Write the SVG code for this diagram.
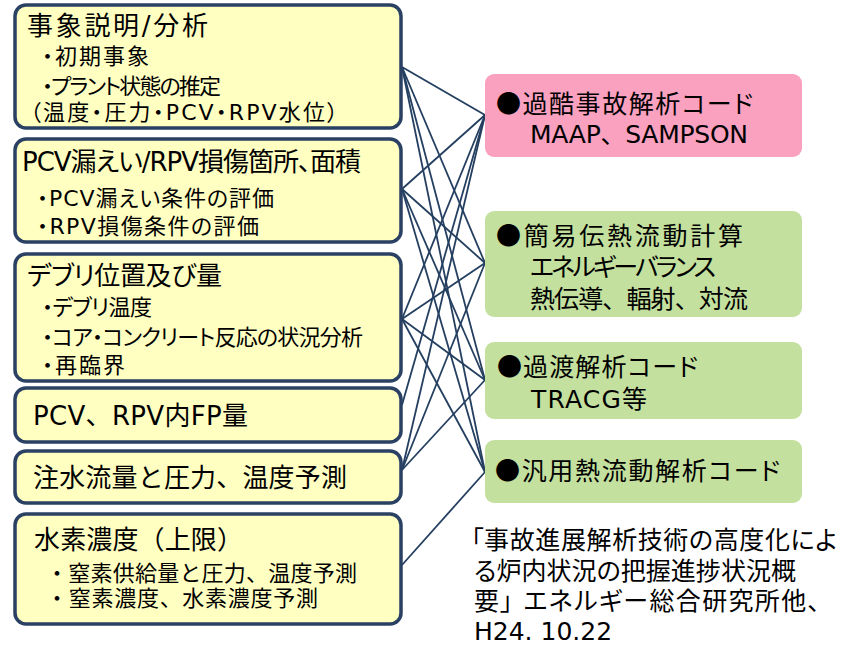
<svg xmlns="http://www.w3.org/2000/svg" width="858" height="646" viewBox="0 0 858 646">
<style>
text{font-family:"DejaVu Sans","Noto Sans CJK JP",sans-serif;fill:#000;}
.p{font-feature-settings:"palt" 1;}
.b{font-family:"Noto Sans CJK JP",sans-serif;}
.lb{fill:#FFFFC2;stroke:#2A4164;stroke-width:3.5;}
.pk{fill:#F9A1BF;}
.gr{fill:#C4E09E;}
.t{font-size:26px;}
.s{font-size:22px;}
.r{font-size:25px;}
.c{font-size:25px;}
#connectors line{stroke:#243F60;stroke-width:1.8;}
</style>
<rect width="858" height="646" fill="#FFFFFF"/>
<g id="connectors">
<line x1="402" y1="67" x2="485" y2="115"/>
<line x1="402" y1="67" x2="485" y2="263"/>
<line x1="402" y1="67" x2="485" y2="380"/>
<line x1="402" y1="67" x2="485" y2="472"/>
<line x1="402" y1="189" x2="485" y2="115"/>
<line x1="402" y1="189" x2="485" y2="263"/>
<line x1="402" y1="189" x2="485" y2="380"/>
<line x1="402" y1="189" x2="485" y2="472"/>
<line x1="402" y1="319" x2="485" y2="115"/>
<line x1="402" y1="319" x2="485" y2="263"/>
<line x1="402" y1="319" x2="485" y2="380"/>
<line x1="402" y1="319" x2="485" y2="472"/>
<line x1="402" y1="405" x2="485" y2="115"/>
<line x1="402" y1="470" x2="485" y2="115"/>
<line x1="402" y1="470" x2="485" y2="263"/>
<line x1="402" y1="470" x2="485" y2="380"/>
<line x1="402" y1="565" x2="485" y2="472"/>
</g>
<g id="box1">
<rect class="lb" x="15" y="5" width="386" height="123" rx="11"/>
<text class="t" x="27" y="35" textLength="181" lengthAdjust="spacing">事象説明/分析</text>
<text class="s p" x="42" y="64" textLength="107" lengthAdjust="spacing">・初期事象</text>
<text class="s p" x="42" y="94" textLength="179" lengthAdjust="spacing">・プラント状態の推定</text>
<text class="s p" x="30" y="120" textLength="308" lengthAdjust="spacing">（温度・圧力・PCV・RPV水位）</text>
</g>
<g id="box2">
<rect class="lb" x="15" y="139" width="386" height="103" rx="11"/>
<text class="t p" x="22" y="171" textLength="339" lengthAdjust="spacing">PCV漏えい/RPV損傷箇所、面積</text>
<text class="s p" x="37" y="206" textLength="237" lengthAdjust="spacing">・PCV漏えい条件の評価</text>
<text class="s p" x="37" y="234" textLength="222" lengthAdjust="spacing">・RPV損傷条件の評価</text>
</g>
<g id="box3">
<rect class="lb" x="15" y="254" width="386" height="127" rx="11"/>
<text class="t p" x="27" y="285" textLength="195" lengthAdjust="spacing">デブリ位置及び量</text>
<text class="s p" x="42" y="315" textLength="110" lengthAdjust="spacing">・デブリ温度</text>
<text class="s p" x="42" y="345" textLength="321" lengthAdjust="spacing">・コア・コンクリート反応の状況分析</text>
<text class="s p" x="42" y="373" textLength="83" lengthAdjust="spacing">・再臨界</text>
</g>
<g id="box4">
<rect class="lb" x="15" y="388" width="386" height="54" rx="11"/>
<text class="t" x="33" y="425" textLength="215" lengthAdjust="spacing">PCV、RPV内FP量</text>
</g>
<g id="box5">
<rect class="lb" x="15" y="451" width="386" height="52" rx="11"/>
<text class="t" x="33" y="487" textLength="314" lengthAdjust="spacing">注水流量と圧力、温度予測</text>
</g>
<g id="box6">
<rect class="lb" x="15" y="514" width="386" height="110" rx="11"/>
<text class="t" x="34" y="549" textLength="209" lengthAdjust="spacing">水素濃度（上限）</text>
<text class="s" x="46" y="581" textLength="311" lengthAdjust="spacing">・窒素供給量と圧力、温度予測</text>
<text class="s" x="46" y="606" textLength="272" lengthAdjust="spacing">・窒素濃度、水素濃度予測</text>
</g>
<g id="code1">
<rect class="pk" x="485" y="74" width="317" height="83" rx="9"/>
<text class="r p" x="496" y="113" textLength="257" lengthAdjust="spacing"><tspan class="b">●</tspan>過酷事故解析コード</text>
<text class="r" x="530" y="143" textLength="218" lengthAdjust="spacing">MAAP、SAMPSON</text>
</g>
<g id="code2">
<rect class="gr" x="485" y="211" width="317" height="106" rx="9"/>
<text class="r p" x="496" y="245" textLength="247" lengthAdjust="spacing"><tspan class="b">●</tspan>簡易伝熱流動計算</text>
<text class="r p" x="530" y="276" textLength="186" lengthAdjust="spacing">エネルギーバランス</text>
<text class="r" x="530" y="308" textLength="218" lengthAdjust="spacing">熱伝導、輻射、対流</text>
</g>
<g id="code3">
<rect class="gr" x="485" y="342" width="317" height="77" rx="9"/>
<text class="r p" x="497" y="376" textLength="201" lengthAdjust="spacing"><tspan class="b">●</tspan>過渡解析コード</text>
<text class="r" x="531" y="408" textLength="116" lengthAdjust="spacing">TRACG等</text>
</g>
<g id="code4">
<rect class="gr" x="485" y="440" width="317" height="63" rx="9"/>
<text class="r p" x="495" y="480" textLength="285" lengthAdjust="spacing"><tspan class="b">●</tspan>汎用熱流動解析コード</text>
</g>
<g id="citation">
<text class="c p" x="471" y="549" textLength="366" lengthAdjust="spacing">「事故進展解析技術の高度化によ</text>
<text class="c p" x="474" y="580" textLength="322" lengthAdjust="spacing">る炉内状況の把握進捗状況概</text>
<text class="c p" x="474" y="610" textLength="346" lengthAdjust="spacing">要」 エネルギー総合研究所他、</text>
<text class="c" x="474" y="640">H24. 10.22</text>
</g>
</svg>
